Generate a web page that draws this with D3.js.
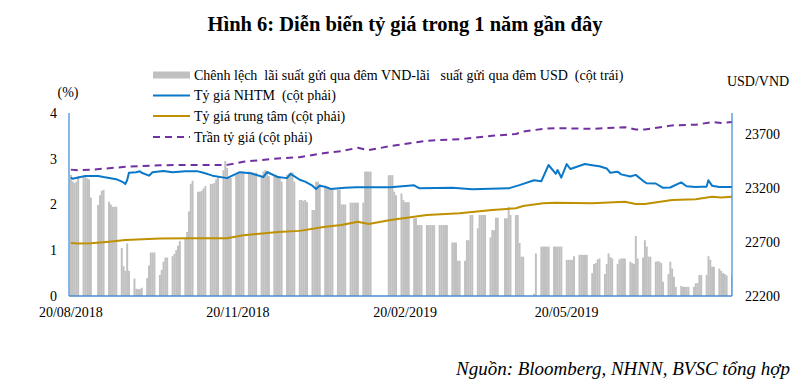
<!DOCTYPE html>
<html>
<head>
<meta charset="utf-8">
<script src="https://cdn.jsdelivr.net/npm/d3@7"></script>
<style>
  html, body { margin: 0; padding: 0; background: #ffffff; }
  svg { display: block; }
  text { font-family: "Liberation Serif", "Times New Roman", serif; fill: #000; }
</style>
</head>
<body>
<div id="chart"></div>
<script>
// ---------------- DATA ----------------
// First business day of the series and the x-axis extent
const startDate = "2018-08-20";
const domainDates = ["2018-08-19", "2019-08-19"];

// Daily spread (VND overnight - USD overnight, %), one value per business day, Mon..Fri, week by week
const spread = [
  2.65, 2.50, 2.47, 2.50, 2.62,
  2.60, 2.60, 2.57, 2.55, 2.15,
  null, 1.99, 2.20, 2.30, 2.32,
  2.06, 2.00, 1.95, 1.95, 1.95,
  1.05, 0.65, 0.55, 1.15, 0.55,
  0.38, 0.16, 0.15, 0.15, 0.18,
  0.39, 0.67, 0.95, 0.95, 0.95,
  0.46, 0.57, 0.75, 0.84, 0.84,
  0.87, 0.92, 1.00, 1.10, 1.20,
  1.26, 1.40, 1.85, 2.45, 2.52,
  2.28, 2.28, 2.30, 2.35, 2.40,
  2.45, 2.45, 2.47, 2.55, 2.60,
  2.75, 2.95, 2.80, 2.60, 2.58,
  2.65, 2.68, 2.70, 2.72, 2.72,
  2.72, 2.70, 2.70, 2.68, 2.70,
  2.60, 2.72, 2.75, 2.70, 2.62,
  2.65, 2.65, 2.62, 2.60, 2.50,
  2.65, 2.68, 2.70, 2.70, 2.50,
  2.10, 2.10, 2.08, 2.10, 2.05,
  1.88, 1.88, 2.50, 2.50, 2.45,
  2.40, 2.38, 2.37, 2.36, 2.36,
  2.32, 2.32, 2.00, 2.00, 2.00,
  2.04, 2.04, 2.04, 2.04, 2.04,
  2.04, 2.72, 2.72, 2.72, 2.72,
  null, null, null, null, null,
  2.64, 2.64, 2.64, 2.28, 2.20,
  2.24, 2.10, 2.05, 2.05, 2.05,
  1.70, 1.70, 1.55, 1.55, 1.55,
  1.55, 1.55, 1.55, 1.55, 1.55,
  1.55, 1.55, 1.55, 1.55, 1.55,
  1.17, 1.17, 1.17, 0.77, 0.77,
  0.77, 1.22, 1.22, 1.77, 1.77,
  1.48, 1.77, 1.77, 1.77, 1.77,
  1.28, 1.44, 1.44, 1.71, 1.71,
  null, 1.70, 1.70, 1.95, 1.77,
  1.77, 1.77, 1.16, 0.86, 0.86,
  null, null, null, 0.05, 0.93,
  1.08, 1.08, 1.08, 1.08, 1.08,
  1.08, 1.08, 1.08, 1.08, 1.08,
  0.79, 0.79, 0.79, 0.79, 0.87,
  0.90, 0.90, 0.90, 0.90, 0.90,
  0.50, 0.70, 0.72, 0.80, 0.82,
  0.48, 0.70, 0.93, 0.85, 0.82,
  0.70, 0.80, 0.82, 0.82, 0.82,
  0.75, 0.72, 0.70, 1.31, 0.82,
  0.84, 1.22, 1.08, 0.86, 0.86,
  0.75, 0.76, 0.75, 0.72, 0.31,
  0.48, 0.75, 0.60, 0.42, 0.20,
  0.22, 0.20, 0.20, 0.20, 0.20,
  0.20, 0.28, 0.28, 0.46, 0.46,
  0.46, 0.87, 0.79, 0.64, 0.64,
  0.60, 0.55, 0.50, 0.48, 0.45,
  0.45
];

// Commercial bank rate (Tỷ giá NHTM), USD/VND
const nhtmDates = [
  "2018-08-20","2018-08-21","2018-08-24","2018-08-28","2018-09-04","2018-09-07","2018-09-14",
  "2018-09-18","2018-09-19","2018-09-20","2018-09-21","2018-09-25","2018-09-27","2018-09-28",
  "2018-10-02","2018-10-04","2018-10-10","2018-10-15","2018-10-22","2018-10-29","2018-11-01",
  "2018-11-06","2018-11-14","2018-11-21","2018-11-27","2018-12-04","2018-12-06","2018-12-12",
  "2018-12-17","2018-12-19","2018-12-24","2018-12-27","2018-12-31","2019-01-02","2019-01-04",
  "2019-01-07","2019-01-10","2019-01-18","2019-01-24","2019-01-28","2019-02-12","2019-02-25",
  "2019-02-28","2019-03-18","2019-03-29","2019-04-18","2019-04-24","2019-05-02","2019-05-06",
  "2019-05-10","2019-05-13","2019-05-14","2019-05-15","2019-05-17","2019-05-20","2019-05-22",
  "2019-05-30","2019-06-03","2019-06-07","2019-06-11","2019-06-13","2019-06-17","2019-06-19",
  "2019-06-24","2019-06-27","2019-07-01","2019-07-03","2019-07-08","2019-07-12","2019-07-16",
  "2019-07-22","2019-07-25","2019-07-30","2019-08-02","2019-08-05","2019-08-06","2019-08-08",
  "2019-08-12","2019-08-19"
];
const nhtm = [
  23300, 23290, 23300, 23315, 23315, 23305, 23285,
  23255, 23240, 23275, 23345, 23350, 23358, 23345,
  23318, 23350, 23362, 23350, 23358, 23358, 23345,
  23318, 23295, 23350, 23340, 23305, 23352, 23305,
  23295, 23335, 23280, 23262, 23225, 23195, 23225,
  23215, 23195, 23205, 23210, 23210, 23210, 23228,
  23200, 23205, 23192, 23200, 23230, 23275, 23265,
  23417, 23355, 23335, 23370, 23300, 23425, 23380,
  23426, 23415, 23405, 23385, 23345, 23355, 23330,
  23310, 23325, 23270, 23247, 23245, 23205, 23208,
  23255, 23220, 23212, 23215, 23215, 23275, 23225,
  23212, 23212
];

// Central rate (Tỷ giá trung tâm) and ceiling (Trần tỷ giá), USD/VND
const refDates = [
  "2018-08-20","2018-08-24","2018-08-31","2018-09-10","2018-09-19","2018-10-08","2018-10-26",
  "2018-11-14","2018-11-23","2018-12-12","2018-12-24","2019-01-07","2019-01-16","2019-01-25",
  "2019-01-31","2019-02-12","2019-03-04","2019-03-22","2019-04-09","2019-04-22","2019-04-26",
  "2019-05-07","2019-05-14","2019-06-03","2019-06-21","2019-06-27","2019-07-02","2019-07-17",
  "2019-07-30","2019-08-08","2019-08-13","2019-08-19"
];
const central = [
  22693, 22688, 22690, 22705, 22720, 22735, 22737,
  22737, 22765, 22795, 22805, 22844, 22860, 22890,
  22869, 22906, 22953, 22968, 22999, 23015, 23036,
  23061, 23067, 23061, 23076, 23055, 23055, 23092,
  23098, 23122, 23115, 23122
];
const ceiling = [
  23374, 23368, 23373, 23387, 23400, 23415, 23418,
  23418, 23447, 23478, 23489, 23529, 23546, 23577,
  23555, 23593, 23642, 23657, 23689, 23705, 23727,
  23753, 23759, 23753, 23768, 23747, 23747, 23785,
  23791, 23815, 23808, 23816
];

// Axes
const leftTicks = [0, 1, 2, 3, 4];
const rightTicks = [22200, 22700, 23200, 23700];
const xTickDates = ["2018-08-20", "2018-11-20", "2019-02-20", "2019-05-20"];
const xTickLabels = ["20/08/2018", "20/11/2018", "20/02/2019", "20/05/2019"];

const title = "Hình 6: Diễn biến tỷ giá trong 1 năm gần đây";
const source = "Nguồn: Bloomberg, NHNN, BVSC tổng hợp";
const legendLabels = [
  "Chênh lệch  lãi suất gửi qua đêm VND-lãi   suất gửi qua đêm USD  (cột trái)",
  "Tỷ giá NHTM  (cột phải)",
  "Tỷ giá trung tâm (cột phải)",
  "Trần tỷ giá (cột phải)"
];

// ---------------- DRAWING ----------------
const W = 807, H = 391;
const plot = { left: 69, right: 732, top: 113, bottom: 296 };
const colors = { bar: "#c0c0c0", nhtm: "#0a78c8", central: "#bf9000", ceiling: "#7030a0", axis: "#4a8fd4" };

const parse = d3.utcParse("%Y-%m-%d");
const svg = d3.select("#chart").append("svg").attr("width", W).attr("height", H);

const x = d3.scaleUtc().domain(domainDates.map(parse)).range([plot.left, plot.right]);
const yL = d3.scaleLinear().domain([0, 4]).range([plot.bottom, plot.top]);
const yR = d3.scaleLinear().domain([22200, 23900]).range([plot.bottom, plot.top]);

// build business-day dates for the spread
const spreadData = [];
{
  let d = parse(startDate);
  for (let i = 0; i < spread.length; ) {
    const wd = d.getUTCDay();
    if (wd !== 0 && wd !== 6) { spreadData.push({ date: new Date(d), v: spread[i] }); i++; }
    d = d3.utcDay.offset(d, 1);
  }
}

svg.append("defs").append("clipPath").attr("id", "plotclip")
  .append("rect").attr("x", plot.left).attr("y", 0)
  .attr("width", plot.right - plot.left).attr("height", plot.bottom);

// bars
const dayW = x(parse("2018-08-21")) - x(parse("2018-08-20"));
svg.append("g").attr("clip-path", "url(#plotclip)")
  .selectAll("rect").data(spreadData.filter(d => d.v != null)).join("rect")
  .attr("x", d => x(d.date) - dayW / 2)
  .attr("width", dayW + 0.15)
  .attr("y", d => yL(d.v))
  .attr("height", d => yL(0) - yL(d.v))
  .attr("fill", colors.bar);

// lines
const line = d3.line().x(d => x(d[0])).y(d => yR(d[1]));
function drawLine(dates, vals, color, dash) {
  const pts = dates.map((s, i) => [parse(s), vals[i]]);
  const p = svg.append("path").datum(pts).attr("d", line)
    .attr("fill", "none").attr("stroke", color).attr("stroke-width", 2)
    .attr("stroke-linejoin", "round");
  if (dash) p.attr("stroke-dasharray", dash);
}
drawLine(refDates, ceiling, colors.ceiling, "7,5");
drawLine(refDates, central, colors.central);
drawLine(nhtmDates, nhtm, colors.nhtm);

// axis lines
const axG = svg.append("g").attr("stroke", colors.axis).attr("stroke-width", 1.3);
axG.append("line").attr("x1", plot.left).attr("x2", plot.left).attr("y1", plot.top).attr("y2", plot.bottom);
axG.append("line").attr("x1", plot.right).attr("x2", plot.right).attr("y1", plot.top).attr("y2", plot.bottom);
axG.append("line").attr("x1", plot.left).attr("x2", plot.right).attr("y1", plot.bottom).attr("y2", plot.bottom);

// tick labels
svg.append("g").selectAll("text").data(leftTicks).join("text")
  .attr("x", 57).attr("y", d => yL(d)).attr("dy", "0.35em")
  .attr("text-anchor", "end").attr("font-size", 14).text(d => d);
svg.append("g").selectAll("text").data(rightTicks).join("text")
  .attr("x", 745).attr("y", d => yR(d)).attr("dy", "0.35em")
  .attr("text-anchor", "start").attr("font-size", 14).text(d => d);
svg.append("g").selectAll("text").data(xTickDates).join("text")
  .attr("x", d => x(parse(d))).attr("y", 317)
  .attr("text-anchor", "middle").attr("font-size", 14)
  .text((d, i) => xTickLabels[i]);

svg.append("text").attr("x", 68).attr("y", 97).attr("text-anchor", "middle").attr("font-size", 14).text("(%)");
svg.append("text").attr("x", 758).attr("y", 86).attr("text-anchor", "middle").attr("font-size", 14).text("USD/VND");

// title and source
svg.append("text").attr("x", 405).attr("y", 31).attr("text-anchor", "middle")
  .attr("font-size", 20.5).attr("font-weight", "bold").text(title);
svg.append("text").attr("x", 790).attr("y", 375).attr("text-anchor", "end")
  .attr("font-size", 19).attr("font-style", "italic").text(source);

// legend
const lg = svg.append("g");
const ly = [75, 95.5, 116, 137];
lg.append("rect").attr("x", 153).attr("y", ly[0] - 3.5).attr("width", 37).attr("height", 7).attr("fill", colors.bar);
[[colors.nhtm, null], [colors.central, null], [colors.ceiling, "7,5"]].forEach((c, i) => {
  const l = lg.append("line").attr("x1", 153).attr("x2", 190).attr("y1", ly[i + 1]).attr("y2", ly[i + 1])
    .attr("stroke", c[0]).attr("stroke-width", 2);
  if (c[1]) l.attr("stroke-dasharray", c[1]);
});
lg.selectAll("text").data(legendLabels).join("text")
  .attr("x", 194).attr("y", (d, i) => ly[i]).attr("dy", "0.35em")
  .attr("font-size", 14).attr("xml:space", "preserve").style("white-space", "pre").text(d => d);
</script>
</body>
</html>
